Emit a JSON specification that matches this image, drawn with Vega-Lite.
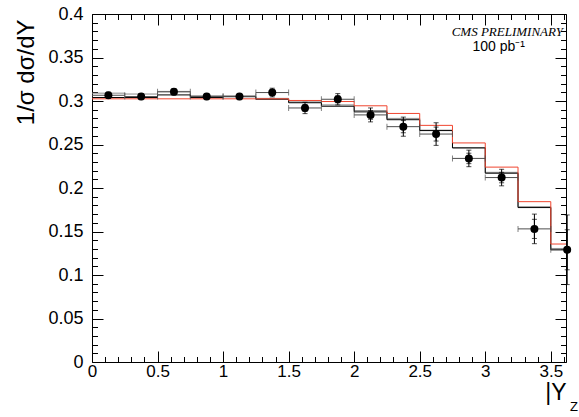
{
  "$schema": "https://vega.github.io/schema/vega-lite/v6.json",
  "width": 474,
  "height": 348,
  "autosize": {"type": "none"},
  "padding": {"left": 92, "top": 14, "right": 13, "bottom": 55},
  "background": "white",
  "config": {
    "view": {"stroke": "black", "strokeWidth": 1},
    "font": "Liberation Sans",
    "axis": {"grid": false, "domain": false, "tickColor": "black", "labelColor": "black", "titleColor": "black", "labelFont": "Liberation Sans", "titleFont": "Liberation Sans", "titleFontWeight": "normal", "labelFlush": false}
  },
  "datasets": {
    "hist": [
      {"lo": 0.0, "hi": 0.25, "black": 0.304, "gray": 0.309, "red": 0.3025},
      {"lo": 0.25, "hi": 0.5, "black": 0.304, "gray": 0.308, "red": 0.3025},
      {"lo": 0.5, "hi": 0.75, "black": 0.307, "gray": 0.311, "red": 0.3025},
      {"lo": 0.75, "hi": 1.0, "black": 0.304, "gray": 0.306, "red": 0.3025},
      {"lo": 1.0, "hi": 1.25, "black": 0.305, "gray": 0.306, "red": 0.3025},
      {"lo": 1.25, "hi": 1.5, "black": 0.302, "gray": 0.303, "red": 0.3025},
      {"lo": 1.5, "hi": 1.75, "black": 0.298, "gray": 0.299, "red": 0.3006},
      {"lo": 1.75, "hi": 2.0, "black": 0.294, "gray": 0.2955, "red": 0.2994},
      {"lo": 2.0, "hi": 2.25, "black": 0.2875, "gray": 0.289, "red": 0.2945},
      {"lo": 2.25, "hi": 2.5, "black": 0.2785, "gray": 0.28, "red": 0.2857},
      {"lo": 2.5, "hi": 2.75, "black": 0.266, "gray": 0.2665, "red": 0.272},
      {"lo": 2.75, "hi": 3.0, "black": 0.246, "gray": 0.2465, "red": 0.2518},
      {"lo": 3.0, "hi": 3.25, "black": 0.217, "gray": 0.218, "red": 0.224},
      {"lo": 3.25, "hi": 3.5, "black": 0.1775, "gray": 0.1785, "red": 0.1843},
      {"lo": 3.5, "hi": 3.75, "black": 0.129, "gray": 0.1305, "red": 0.1356}
    ],
    "pts": [
      {"x": 0.125, "xlo": 0.0, "xhi": 0.25, "y": 0.3066, "tlo": 0.3031, "thi": 0.3101, "slo": 0.3046, "shi": 0.3086},
      {"x": 0.375, "xlo": 0.25, "xhi": 0.5, "y": 0.3051, "tlo": 0.3016, "thi": 0.3086, "slo": 0.3031, "shi": 0.3071},
      {"x": 0.625, "xlo": 0.5, "xhi": 0.75, "y": 0.3105, "tlo": 0.307, "thi": 0.314, "slo": 0.3085, "shi": 0.3125},
      {"x": 0.875, "xlo": 0.75, "xhi": 1.0, "y": 0.3051, "tlo": 0.3016, "thi": 0.3086, "slo": 0.3031, "shi": 0.3071},
      {"x": 1.125, "xlo": 1.0, "xhi": 1.25, "y": 0.3051, "tlo": 0.3016, "thi": 0.3086, "slo": 0.3031, "shi": 0.3071},
      {"x": 1.375, "xlo": 1.25, "xhi": 1.5, "y": 0.3097, "tlo": 0.3047, "thi": 0.3147, "slo": 0.3067, "shi": 0.3127},
      {"x": 1.625, "xlo": 1.5, "xhi": 1.75, "y": 0.292, "tlo": 0.2855, "thi": 0.2985, "slo": 0.288, "shi": 0.296},
      {"x": 1.875, "xlo": 1.75, "xhi": 2.0, "y": 0.302, "tlo": 0.2955, "thi": 0.3085, "slo": 0.298, "shi": 0.306},
      {"x": 2.125, "xlo": 2.0, "xhi": 2.25, "y": 0.284, "tlo": 0.276, "thi": 0.292, "slo": 0.279, "shi": 0.289},
      {"x": 2.375, "xlo": 2.25, "xhi": 2.5, "y": 0.2705, "tlo": 0.2595, "thi": 0.2815, "slo": 0.2635, "shi": 0.2775},
      {"x": 2.625, "xlo": 2.5, "xhi": 2.75, "y": 0.262, "tlo": 0.249, "thi": 0.275, "slo": 0.254, "shi": 0.27},
      {"x": 2.875, "xlo": 2.75, "xhi": 3.0, "y": 0.234, "tlo": 0.2245, "thi": 0.2435, "slo": 0.228, "shi": 0.24},
      {"x": 3.125, "xlo": 3.0, "xhi": 3.25, "y": 0.212, "tlo": 0.2025, "thi": 0.2215, "slo": 0.206, "shi": 0.218},
      {"x": 3.375, "xlo": 3.25, "xhi": 3.5, "y": 0.153, "tlo": 0.136, "thi": 0.17, "slo": 0.142, "shi": 0.164},
      {"x": 3.625, "xlo": 3.5, "xhi": 3.75, "y": 0.129, "tlo": 0.089, "thi": 0.169, "slo": 0.106, "shi": 0.152}
    ]
  },
  "layer": [
    {
      "data": {"name": "hist"},
      "transform": [{"fold": ["lo", "hi"], "as": ["key", "xpos"]}],
      "mark": {"type": "line", "color": "#8c8c8c", "strokeWidth": 1, "clip": true},
      "encoding": {
        "x": {"field": "xpos", "type": "quantitative", "scale": {"domain": [0, 3.616], "nice": false, "zero": false}, "axis": null},
        "y": {"field": "gray", "type": "quantitative", "scale": {"domain": [0, 0.4], "nice": false, "zero": false}, "axis": null},
        "order": [{"field": "lo", "sort": "ascending"}, {"field": "key", "sort": "descending"}]
      }
    },
    {
      "data": {"name": "hist"},
      "transform": [{"fold": ["lo", "hi"], "as": ["key", "xpos"]}],
      "mark": {"type": "line", "color": "black", "strokeWidth": 1, "clip": true},
      "encoding": {
        "x": {"field": "xpos", "type": "quantitative", "scale": {"domain": [0, 3.616], "nice": false, "zero": false}, "axis": null},
        "y": {"field": "black", "type": "quantitative", "scale": {"domain": [0, 0.4], "nice": false, "zero": false}, "axis": null},
        "order": [{"field": "lo", "sort": "ascending"}, {"field": "key", "sort": "descending"}]
      }
    },
    {
      "data": {"name": "hist"},
      "transform": [{"fold": ["lo", "hi"], "as": ["key", "xpos"]}],
      "mark": {"type": "line", "color": "#f0452f", "strokeWidth": 1, "clip": true},
      "encoding": {
        "x": {"field": "xpos", "type": "quantitative", "scale": {"domain": [0, 3.616], "nice": false, "zero": false},
          "axis": {"orient": "top", "values": [0,0.1,0.2,0.3,0.4,0.5,0.6,0.7,0.8,0.9,1,1.1,1.2,1.3,1.4,1.5,1.6,1.7,1.8,1.9,2,2.1,2.2,2.3,2.4,2.5,2.6,2.7,2.8,2.9,3,3.1,3.2,3.3,3.4,3.5,3.6],
            "labels": false, "title": null,
            "tickSize": {"condition": {"test": "abs(datum.value*2-round(datum.value*2))<1e-6", "value": -11}, "value": -5.5}}},
        "y": {"field": "red", "type": "quantitative", "scale": {"domain": [0, 0.4], "nice": false, "zero": false},
          "axis": {"orient": "right", "values": [0,0.01,0.02,0.03,0.04,0.05,0.06,0.07,0.08,0.09,0.1,0.11,0.12,0.13,0.14,0.15,0.16,0.17,0.18,0.19,0.2,0.21,0.22,0.23,0.24,0.25,0.26,0.27,0.28,0.29,0.3,0.31,0.32,0.33,0.34,0.35,0.36,0.37,0.38,0.39,0.4],
            "labels": false, "title": null,
            "tickSize": {"condition": {"test": "abs(datum.value*20-round(datum.value*20))<1e-6", "value": -11}, "value": -5.5}}},
        "order": [{"field": "lo", "sort": "ascending"}, {"field": "key", "sort": "descending"}]
      }
    },
    {
      "data": {"name": "pts"},
      "mark": {"type": "errorbar", "color": "#4d4d4d", "thickness": 1, "ticks": {"size": 6}, "clip": true},
      "encoding": {
        "x": {"field": "xlo", "type": "quantitative", "scale": {"domain": [0, 3.616], "nice": false, "zero": false}, "axis": null},
        "x2": {"field": "xhi"},
        "y": {"field": "y", "type": "quantitative", "scale": {"domain": [0, 0.4], "nice": false, "zero": false}, "axis": null}
      }
    },
    {
      "data": {"name": "pts"},
      "mark": {"type": "errorbar", "color": "black", "thickness": 1, "ticks": {"size": 5}},
      "encoding": {
        "x": {"field": "x", "type": "quantitative", "scale": {"domain": [0, 3.616], "nice": false, "zero": false}, "axis": null},
        "y": {"field": "tlo", "type": "quantitative", "scale": {"domain": [0, 0.4], "nice": false, "zero": false}, "axis": null},
        "y2": {"field": "thi"}
      }
    },
    {
      "data": {"name": "pts"},
      "mark": {"type": "errorbar", "color": "black", "thickness": 1, "ticks": {"size": 5}},
      "encoding": {
        "x": {"field": "x", "type": "quantitative", "scale": {"domain": [0, 3.616], "nice": false, "zero": false}, "axis": null},
        "y": {"field": "slo", "type": "quantitative", "scale": {"domain": [0, 0.4], "nice": false, "zero": false}, "axis": null},
        "y2": {"field": "shi"}
      }
    },
    {
      "data": {"name": "pts"},
      "mark": {"type": "circle", "color": "black", "opacity": 1, "size": 64},
      "encoding": {
        "x": {"field": "x", "type": "quantitative", "scale": {"domain": [0, 3.616], "nice": false, "zero": false},
          "axis": {"orient": "bottom", "values": [0,0.1,0.2,0.3,0.4,0.5,0.6,0.7,0.8,0.9,1,1.1,1.2,1.3,1.4,1.5,1.6,1.7,1.8,1.9,2,2.1,2.2,2.3,2.4,2.5,2.6,2.7,2.8,2.9,3,3.1,3.2,3.3,3.4,3.5,3.6],
            "format": ".1~f",
            "labelExpr": "abs(datum.value*2-round(datum.value*2))<1e-6 ? datum.label : ''",
            "tickSize": {"condition": {"test": "abs(datum.value*2-round(datum.value*2))<1e-6", "value": -11}, "value": -5.5},
            "labelFontSize": 17, "labelPadding": 12,
            "title": "|Y", "titleFontSize": 23, "titleAnchor": "end", "titleAlign": "right", "titleBaseline": "middle", "titleX": 474, "titleY": 30}},
        "y": {"field": "y", "type": "quantitative", "scale": {"domain": [0, 0.4], "nice": false, "zero": false},
          "axis": {"orient": "left", "values": [0,0.01,0.02,0.03,0.04,0.05,0.06,0.07,0.08,0.09,0.1,0.11,0.12,0.13,0.14,0.15,0.16,0.17,0.18,0.19,0.2,0.21,0.22,0.23,0.24,0.25,0.26,0.27,0.28,0.29,0.3,0.31,0.32,0.33,0.34,0.35,0.36,0.37,0.38,0.39,0.4],
            "format": ".2~f",
            "labelExpr": "abs(datum.value*20-round(datum.value*20))<1e-6 ? datum.label : ''",
            "tickSize": {"condition": {"test": "abs(datum.value*20-round(datum.value*20))<1e-6", "value": -11}, "value": -5.5},
            "labelFontSize": 18, "labelPadding": 20,
            "title": "1/σ dσ/dY", "titleFontSize": 24, "titleAngle": -90, "titleAnchor": "end", "titleAlign": "right", "titleBaseline": "middle", "titleX": -66, "titleY": 5}}
      }
    },
    {
      "data": {"values": [{}]},
      "mark": {"type": "text", "font": "Liberation Serif", "fontStyle": "italic", "fontSize": 13, "align": "right", "baseline": "middle", "color": "black"},
      "encoding": {
        "x": {"datum": 3.593, "type": "quantitative", "scale": {"domain": [0, 3.616], "nice": false, "zero": false}, "axis": null},
        "y": {"datum": 0.3793, "type": "quantitative", "scale": {"domain": [0, 0.4], "nice": false, "zero": false}, "axis": null},
        "text": {"value": "CMS PRELIMINARY"}
      }
    },
    {
      "data": {"values": [{}]},
      "mark": {"type": "text", "font": "Liberation Sans", "fontSize": 14, "align": "right", "baseline": "middle", "color": "black"},
      "encoding": {
        "x": {"datum": 3.303, "type": "quantitative", "scale": {"domain": [0, 3.616], "nice": false, "zero": false}, "axis": null},
        "y": {"datum": 0.362, "type": "quantitative", "scale": {"domain": [0, 0.4], "nice": false, "zero": false}, "axis": null},
        "text": {"value": "100 pb⁻¹"}
      }
    },
    {
      "data": {"values": [{}]},
      "mark": {"type": "text", "font": "Liberation Sans", "fontSize": 13, "align": "center", "baseline": "middle", "color": "black"},
      "encoding": {
        "x": {"datum": 3.677, "type": "quantitative", "scale": {"domain": [0, 3.616], "nice": false, "zero": false}, "axis": null},
        "y": {"datum": -0.0517, "type": "quantitative", "scale": {"domain": [0, 0.4], "nice": false, "zero": false}, "axis": null},
        "text": {"value": "Z"}
      }
    }
  ],
  "resolve": {"axis": {"x": "independent", "y": "independent"}}
}
